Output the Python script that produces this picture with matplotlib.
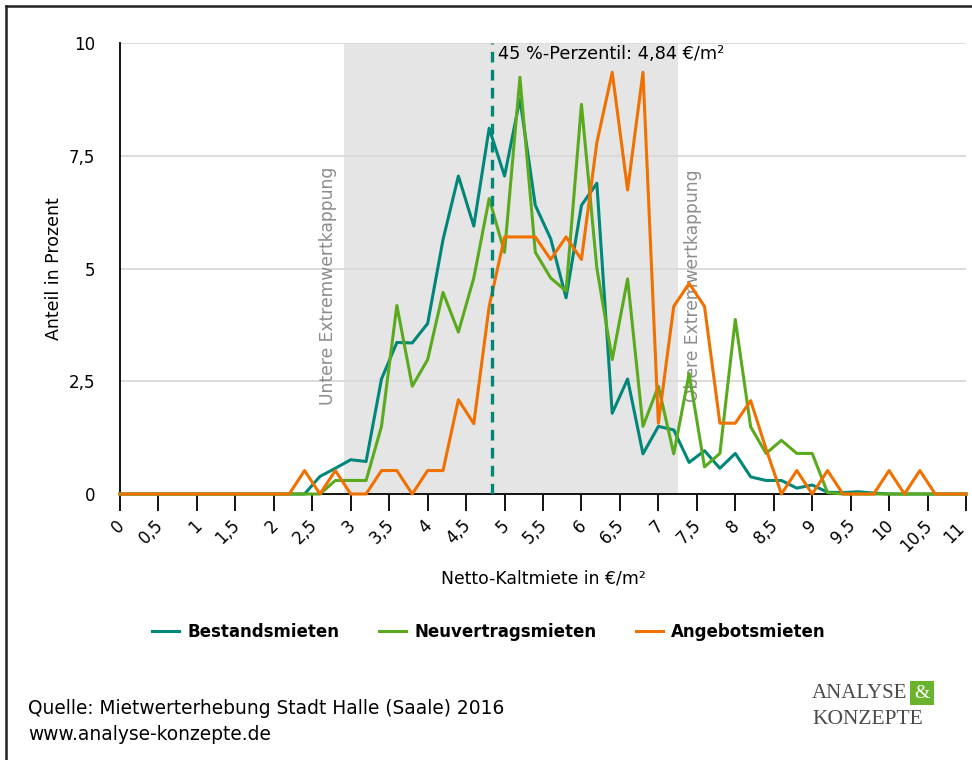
import numpy as np
import matplotlib
matplotlib.use('Agg')
import matplotlib.pyplot as plt
from matplotlib.lines import Line2D
from matplotlib.transforms import ScaledTranslation

# Netto-Kaltmiete grid, 0 .. 11 EUR/m2 in steps of 0.2
miete = np.linspace(0, 11, 56)

bestand = [0, 0, 0, 0, 0, 0, 0, 0, 0, 0, 0, 0,
           0, 0.39, 0.57, 0.76, 0.72, 2.55, 3.36, 3.35, 3.78, 5.64, 7.05, 5.94,
           8.11, 7.05, 8.76, 6.4, 5.66, 4.35, 6.4, 6.89, 1.79, 2.55, 0.89, 1.5,
           1.42, 0.7, 0.96, 0.57, 0.9, 0.38, 0.3, 0.3, 0.13, 0.2, 0.04, 0.03,
           0.05, 0.02, 0, 0, 0, 0, 0, 0]
neuvertrag = [0, 0, 0, 0, 0, 0, 0, 0, 0, 0, 0, 0,
              0, 0, 0.3, 0.3, 0.3, 1.5, 4.18, 2.39, 2.98, 4.47, 3.59, 4.79,
              6.55, 5.36, 9.24, 5.36, 4.79, 4.5, 8.64, 5.01, 2.98, 4.77, 1.5, 2.39,
              0.89, 2.67, 0.6, 0.9, 3.87, 1.49, 0.9, 1.19, 0.9, 0.9, 0.03, 0,
              0, 0, 0, 0, 0, 0, 0, 0]
angebot = [0, 0, 0, 0, 0, 0, 0, 0, 0, 0, 0, 0,
           0.52, 0, 0.52, 0, 0, 0.52, 0.52, 0, 0.52, 0.52, 2.09, 1.56,
           4.16, 5.7, 5.7, 5.7, 5.2, 5.7, 5.2, 7.79, 9.35, 6.74, 9.35, 1.57,
           4.16, 4.67, 4.16, 1.57, 1.57, 2.07, 1.0, 0, 0.52, 0, 0.52, 0,
           0, 0, 0.52, 0, 0.52, 0, 0, 0]

series_names = ['Bestandsmieten', 'Neuvertragsmieten', 'Angebotsmieten']
series_colors = ['#00877A', '#5AAA1E', '#F07000']

kappung_unten = 2.91
kappung_oben = 7.26
perzentil = 4.84

xticks = [0, 0.5, 1, 1.5, 2, 2.5, 3, 3.5, 4, 4.5, 5, 5.5, 6, 6.5, 7, 7.5,
          8, 8.5, 9, 9.5, 10, 10.5, 11]
yticks = [0, 2.5, 5, 7.5, 10]


def de_num(v):
    return ('%g' % v).replace('.', ',')


fig = plt.figure(figsize=(9.72, 7.6), dpi=100)
ax = fig.add_axes([120 / 972, 266 / 760, 846 / 972, 451 / 760])

ax.axvspan(kappung_unten, kappung_oben, color='#E5E5E5', lw=0, zorder=0)
for y in yticks[1:]:
    ax.axhline(y, color='#D9D9D9', lw=1.3, zorder=1)

for vals, name, col in zip([bestand, neuvertrag, angebot], series_names, series_colors):
    ax.plot(miete, vals, color=col, lw=2.2, label=name, zorder=3, clip_on=False)

ax.plot([perzentil, perzentil], [0, 10], color='#00877A', lw=2.4,
        dashes=(3.2, 2.2), zorder=4)
ax.text(perzentil + 0.08, 9.75, '45 %-Perzentil: 4,84 €/m²', fontsize=12.8,
        ha='left', va='center', zorder=5)

ax.text(2.7, 4.62, 'Untere Extremwertkappung', rotation=90, fontsize=12.3,
        color='#8C8C8C', ha='center', va='center', zorder=2)
ax.text(7.45, 4.62, 'Obere Extremwertkappung', rotation=90, fontsize=12.3,
        color='#8C8C8C', ha='center', va='center', zorder=2)

ax.set_xlim(0, 11)
ax.set_ylim(0, 10)
ax.set_xticks(xticks)
ax.set_xticklabels([de_num(v) for v in xticks], rotation=45, ha='right',
                   rotation_mode='anchor', fontsize=12)
ax.set_yticks(yticks)
ax.set_yticklabels([de_num(v) for v in yticks], fontsize=12)
ax.tick_params(axis='x', length=12, width=1.3, color='black', pad=4)
ax.tick_params(axis='y', length=0, pad=18)

# nudge the rotated labels a little left (after tick_params, which resets transforms)
shift = ScaledTranslation(-0.045, 0.0, fig.dpi_scale_trans)
labels = ax.get_xticklabels()
for lab in labels:
    lab.set_transform(lab.get_transform() + shift)
# the last one sits on the picture's right edge
labels[-1].set_transform(labels[-1].get_transform()
                         + ScaledTranslation(-0.06, -0.03, fig.dpi_scale_trans))

for side in ['top', 'right']:
    ax.spines[side].set_visible(False)
ax.spines['left'].set_linewidth(1.3)
ax.spines['bottom'].set_linewidth(1.3)

ax.set_xlabel('Netto-Kaltmiete in €/m²', fontsize=12.4, labelpad=10)
ax.set_ylabel('Anteil in Prozent', fontsize=12.5, labelpad=4)

fig.legend(loc='center', bbox_to_anchor=(489 / 972, 128 / 760), ncol=3,
           frameon=False, handlelength=1.6, handletextpad=0.5, columnspacing=2.4,
           prop={'weight': 'bold', 'size': 12})

fig.text(28 / 972, 1 - 709 / 760, 'Quelle: Mietwerterhebung Stadt Halle (Saale) 2016',
         fontsize=13.4, va='center', ha='left')
fig.text(28 / 972, 1 - 734 / 760, 'www.analyse-konzepte.de', fontsize=13.4,
         va='center', ha='left')

# logo
fig.text(812 / 972, 1 - 693 / 760, 'ANALYSE', fontsize=15, family='Liberation Serif',
         color='#4A4A4A', va='center', ha='left')
fig.text(922 / 972, 1 - 693 / 760, '&', fontsize=14, family='Liberation Serif',
         color='white', va='center', ha='center',
         bbox=dict(boxstyle='square,pad=0.2', fc='#6AB42D', ec='none'))
fig.text(812 / 972, 1 - 720 / 760, 'KONZEPTE', fontsize=15.5, family='Liberation Serif',
         color='#4A4A4A', va='center', ha='left')

# frame around the chart box (top and left edge)
fig.add_artist(Line2D([6 / 972, 1], [1 - 6 / 760, 1 - 6 / 760], color='#222222', lw=1.8))
fig.add_artist(Line2D([6 / 972, 6 / 972], [0, 1 - 6 / 760], color='#222222', lw=1.8))

fig.savefig('out.png', dpi=100)
